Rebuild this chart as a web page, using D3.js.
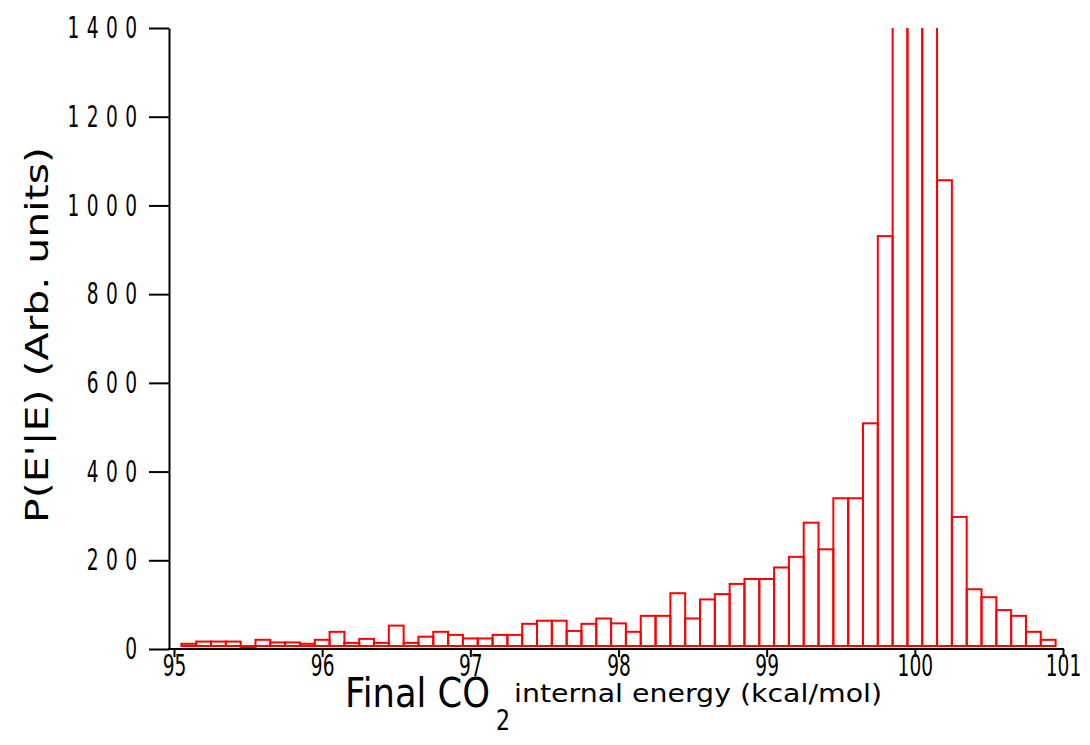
<!DOCTYPE html>
<html>
<head>
<meta charset="utf-8">
<script src="https://cdn.jsdelivr.net/npm/d3@7/dist/d3.min.js"></script>
<style>
body { margin: 0; background: #fff; }
</style>
</head>
<body>
<div id="chart"></div>
<script>
// bin centres (kcal/mol) and heights
var bin_centers = [95.1, 95.2, 95.3, 95.4, 95.5, 95.6, 95.7, 95.8, 95.9, 96.0,
                   96.1, 96.2, 96.3, 96.4, 96.5, 96.6, 96.7, 96.8, 96.9, 97.0,
                   97.1, 97.2, 97.3, 97.4, 97.5, 97.6, 97.7, 97.8, 97.9, 98.0,
                   98.1, 98.2, 98.3, 98.4, 98.5, 98.6, 98.7, 98.8, 98.9, 99.0,
                   99.1, 99.2, 99.3, 99.4, 99.5, 99.6, 99.7, 99.8, 99.9, 100.0,
                   100.1, 100.2, 100.3, 100.4, 100.5, 100.6, 100.7, 100.8, 100.9];
var counts = [5, 10, 10, 10, -4, 14, 8, 8, 5, 14,
              32, 7, 16, 7, 46, 7, 21, 32, 25, 17,
              17, 25, 25, 50, 57, 57, 34, 50, 62, 51,
              32, 68, 68, 119, 62, 105, 117, 140, 151, 151,
              177, 201, 278, 218, 333, 333, 502, 924, 2600, 3400,
              2200, 1050, 291, 128, 110, 81, 68, 32, 14];
var bin_width = 0.1;
var y_ticks = [0, 200, 400, 600, 800, 1000, 1200, 1400];
var x_ticks = [95, 96, 97, 98, 99, 100, 101];

var graph_w = 1090;
var graph_h = 745;
var axis_left = 169;

var x_ax = d3.scaleLinear()
  .domain([95, 101])
  .range([174, 1063]);
var y_ax = d3.scaleLinear()
  .domain([0, 1400])
  .range([649, 28]);

var svg_obj = d3.select("#chart").append("svg")
  .attr("width", graph_w)
  .attr("height", graph_h);

// bars running past 1400 are cut open at the top of the axis
svg_obj.append("clipPath")
  .attr("id", "plot_clip")
  .append("rect")
    .attr("x", 0)
    .attr("y", y_ax(1400) + 3)
    .attr("width", graph_w)
    .attr("height", graph_h);

var bars = svg_obj.append("g")
  .attr("transform", "translate(0,-3)")
  .attr("clip-path", "url(#plot_clip)");

bars.selectAll(".bin")
  .data(counts)
  .enter()
    .append("rect")
      .attr("class", "bin")
      .attr("x", function(d, i) { return x_ax(bin_centers[i] - bin_width / 2); })
      .attr("width", function(d, i) { return x_ax(bin_centers[i] + bin_width / 2) - x_ax(bin_centers[i] - bin_width / 2); })
      .attr("y", function(d) { return y_ax(Math.max(d, 0)); })
      .attr("height", function(d) { return Math.abs(y_ax(0) - y_ax(d)); })
      .attr("fill", "none")
      .attr("stroke", "#ff0000")
      .attr("stroke-width", 2);

// y axis
var y_axis = svg_obj.append("g")
  .attr("transform", "translate(" + axis_left + ",0)")
  .call(d3.axisLeft(y_ax).tickValues(y_ticks).tickFormat(d3.format("d")).tickSize(20).tickSizeOuter(0));
y_axis.selectAll("path, line")
  .attr("stroke", "#000")
  .attr("stroke-width", 2);
y_axis.attr("font-family", "DejaVu Sans").attr("font-size", 30);
y_axis.selectAll("text")
  .attr("letter-spacing", 12)
  .attr("x", -32 / 0.62 + 12)
  .attr("transform", "scale(0.62,1)");

// x axis
var x_axis = svg_obj.append("g")
  .attr("transform", "translate(0," + y_ax(0) + ")")
  .call(d3.axisBottom(x_ax).tickValues(x_ticks).tickFormat(d3.format("d")).tickSize(8).tickSizeOuter(0).tickPadding(-2));
x_axis.select(".domain").remove();
x_axis.selectAll("line")
  .attr("stroke", "#000")
  .attr("stroke-width", 2);
x_axis.attr("font-family", "DejaVu Sans").attr("font-size", 30);
x_axis.selectAll("text")
  .attr("transform", "scale(0.62,1)");
svg_obj.append("line")
  .attr("x1", axis_left - 1)
  .attr("x2", x_ax(101) + 1)
  .attr("y1", y_ax(0))
  .attr("y2", y_ax(0))
  .attr("stroke", "#000")
  .attr("stroke-width", 2);

// axis titles
var x_title = svg_obj.append("g")
  .attr("font-family", "DejaVu Sans")
  .attr("fill", "#000");
x_title.append("text")
  .attr("x", 345)
  .attr("y", 707)
  .attr("font-size", 40)
  .attr("textLength", 145)
  .attr("lengthAdjust", "spacingAndGlyphs")
  .text("Final CO");
x_title.append("text")
  .attr("x", 496)
  .attr("y", 730)
  .attr("font-size", 28)
  .attr("textLength", 14)
  .attr("lengthAdjust", "spacingAndGlyphs")
  .text("2");
x_title.append("text")
  .attr("x", 514)
  .attr("y", 702)
  .attr("font-size", 25)
  .attr("textLength", 368)
  .attr("lengthAdjust", "spacingAndGlyphs")
  .text("internal energy (kcal/mol)");

svg_obj.append("text")
  .attr("transform", "translate(48,335) rotate(-90)")
  .attr("text-anchor", "middle")
  .attr("font-family", "DejaVu Sans")
  .attr("font-size", 32)
  .attr("textLength", 376)
  .attr("lengthAdjust", "spacingAndGlyphs")
  .attr("fill", "#000")
  .text("P(E'|E) (Arb. units)");
</script>
</body>
</html>
